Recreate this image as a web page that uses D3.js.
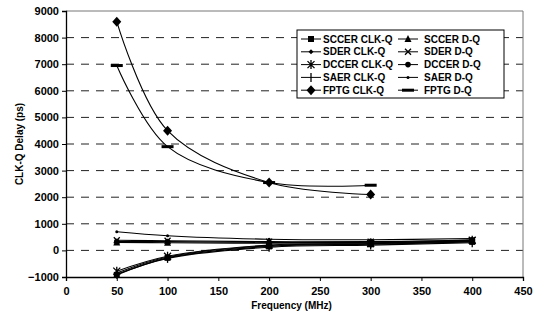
<!DOCTYPE html>
<html>
<head>
<meta charset="utf-8">
<script src="https://cdn.jsdelivr.net/npm/d3@7"></script>
<style>
  body { margin: 0; background: #fff; }
  svg { font-family: "Liberation Sans", Arial, sans-serif; font-weight: bold; }
</style>
</head>
<body>
<svg id="chart" width="535" height="313"></svg>
<script>
const freqs = [50, 100, 200, 300, 400]

const sccerClk = [-920, -280, 150, 230, 320]
const sccerDq = [300, 290, 270, 290, 350]
const sderClk = [-850, -250, 180, 250, 340]
const sderDq = [380, 360, 330, 330, 380]
const dccerClk = [-780, -220, 200, 260, 380]
const dccerDq = [330, 330, 300, 310, 400]
const saerClk = [-900, -300, 120, 200, 290]
const saerDq = [700, 550, 420, 400, 450]
const fptgClk = [8600, 4500, 2550, 2100, null]
const fptgDq = [6950, 3900, 2550, 2450, null]

const xTicks = [0, 50, 100, 150, 200, 250, 300, 350, 400, 450]
const yTicks = [-1000, 0, 1000, 2000, 3000, 4000, 5000, 6000, 7000, 8000, 9000]

const series = [
  { name: 'SCCER CLK-Q', values: sccerClk, mark: 'square' },
  { name: 'SCCER D-Q', values: sccerDq, mark: 'triangle' },
  { name: 'SDER CLK-Q', values: sderClk, mark: 'dot' },
  { name: 'SDER D-Q', values: sderDq, mark: 'cross' },
  { name: 'DCCER CLK-Q', values: dccerClk, mark: 'star' },
  { name: 'DCCER D-Q', values: dccerDq, mark: 'circle' },
  { name: 'SAER CLK-Q', values: saerClk, mark: 'vbar' },
  { name: 'SAER D-Q', values: saerDq, mark: 'tiny' },
  { name: 'FPTG CLK-Q', values: fptgClk, mark: 'diamond' },
  { name: 'FPTG D-Q', values: fptgDq, mark: 'dash' }
]

const margin = { top: 11, right: 12, bottom: 36, left: 66 }
const width = 535 - margin.left - margin.right
const height = 313 - margin.top - margin.bottom

const svg = d3.select('#chart')
const g = svg.append('g').attr('transform', `translate(${margin.left},${margin.top})`)

const x = d3.scaleLinear().domain([0, 450]).range([0, width])
const y = d3.scaleLinear().domain([-1000, 9000]).range([height, 0])

// dashed grid
g.selectAll('line.grid')
  .data(yTicks.filter(t => t > -1000 && t < 9000))
  .enter().append('line')
  .attr('class', 'grid')
  .attr('x1', 0).attr('x2', width)
  .attr('y1', d => y(d)).attr('y2', d => y(d))
  .attr('stroke', '#222')
  .attr('stroke-width', 1)
  .attr('stroke-dasharray', '8,7')

// frame (top/right light)
g.append('line').attr('x1', 0).attr('x2', width).attr('y1', 0).attr('y2', 0)
  .attr('stroke', '#777')
g.append('line').attr('x1', width).attr('x2', width).attr('y1', 0).attr('y2', height)
  .attr('stroke', '#777')

const xAxis = g.append('g')
  .attr('transform', `translate(0,${height})`)
  .call(d3.axisBottom(x).tickValues(xTicks).tickSize(4).tickPadding(6).tickFormat(d3.format('d')))
const yAxis = g.append('g')
  .call(d3.axisLeft(y).tickValues(yTicks).tickSize(4).tickPadding(3).tickFormat(d3.format('d')))

for (const ax of [xAxis, yAxis]) {
  ax.select('.domain').attr('stroke', '#000').attr('stroke-width', 1.3)
  ax.selectAll('.tick line').attr('stroke', '#000')
  ax.selectAll('text').attr('font-size', 11).attr('font-weight', 'bold')
    .attr('font-family', '"Liberation Sans", Arial, sans-serif').attr('fill', '#000')
}

svg.append('text')
  .attr('x', margin.left + width / 2 - 3)
  .attr('y', 309)
  .attr('text-anchor', 'middle')
  .attr('font-size', 10)
  .text('Frequency (MHz)')

svg.append('text')
  .attr('transform', `translate(23,${margin.top + height / 2}) rotate(-90)`)
  .attr('text-anchor', 'middle')
  .attr('font-size', 10)
  .text('CLK-Q Delay (ps)')

const line = d3.line()
  .defined(d => d.v != null)
  .x(d => x(d.f))
  .y(d => y(d.v))
  .curve(d3.curveCatmullRom)

function drawMark(sel, mark) {
  switch (mark) {
    case 'square':
      sel.append('rect').attr('x', -3).attr('y', -3).attr('width', 6).attr('height', 6).attr('fill', '#000'); break
    case 'triangle':
      sel.append('path').attr('d', 'M0,-4L3.5,3L-3.5,3Z').attr('fill', '#000'); break
    case 'dot':
      sel.append('path').attr('d', 'M0,-2.5L2.5,0L0,2.5L-2.5,0Z').attr('fill', '#000'); break
    case 'cross':
      sel.append('path').attr('d', 'M-3,-3L3,3M-3,3L3,-3').attr('stroke', '#000').attr('stroke-width', 1.3); break
    case 'star':
      sel.append('path').attr('d', 'M-3.5,-3.5L3.5,3.5M-3.5,3.5L3.5,-3.5M0,-4.5L0,4.5').attr('stroke', '#000').attr('stroke-width', 1.3); break
    case 'circle':
      sel.append('circle').attr('r', 2.8).attr('fill', '#000'); break
    case 'vbar':
      sel.append('path').attr('d', 'M0,-4.5L0,4.5').attr('stroke', '#000').attr('stroke-width', 1.3); break
    case 'tiny':
      sel.append('circle').attr('r', 1.5).attr('fill', '#000'); break
    case 'diamond':
      sel.append('path').attr('d', 'M0,-5L4.5,0L0,5L-4.5,0Z').attr('fill', '#000'); break
    case 'dash':
      sel.append('rect').attr('x', -6).attr('y', -1.5).attr('width', 12).attr('height', 3).attr('fill', '#000'); break
  }
}

series.forEach(s => {
  const pts = freqs.map((f, i) => ({ f: f, v: s.values[i] }))
  g.append('path')
    .datum(pts)
    .attr('d', line)
    .attr('fill', 'none')
    .attr('stroke', '#000')
    .attr('stroke-width', 1.1)
  g.selectAll(null)
    .data(pts.filter(d => d.v != null))
    .enter().append('g')
    .attr('transform', d => `translate(${x(d.f)},${y(d.v)})`)
    .each(function() { drawMark(d3.select(this), s.mark) })
})

// legend
const legend = svg.append('g').attr('transform', 'translate(297,30)')
legend.append('rect')
  .attr('width', 207).attr('height', 68)
  .attr('fill', '#fff').attr('stroke', '#000').attr('stroke-width', 1)

series.forEach((s, i) => {
  const col = i % 2, row = Math.floor(i / 2)
  const item = legend.append('g')
    .attr('transform', `translate(${col === 0 ? 4 : 101},${9 + row * 12.8})`)
  item.append('line').attr('x1', 0).attr('x2', 20).attr('stroke', '#000').attr('stroke-width', 1)
  drawMark(item.append('g').attr('transform', 'translate(10,0)'), s.mark)
  item.append('text')
    .attr('x', col === 0 ? 22 : 26)
    .attr('y', 3.5)
    .attr('font-size', 10)
    .text(s.name)
})
</script>
</body>
</html>
